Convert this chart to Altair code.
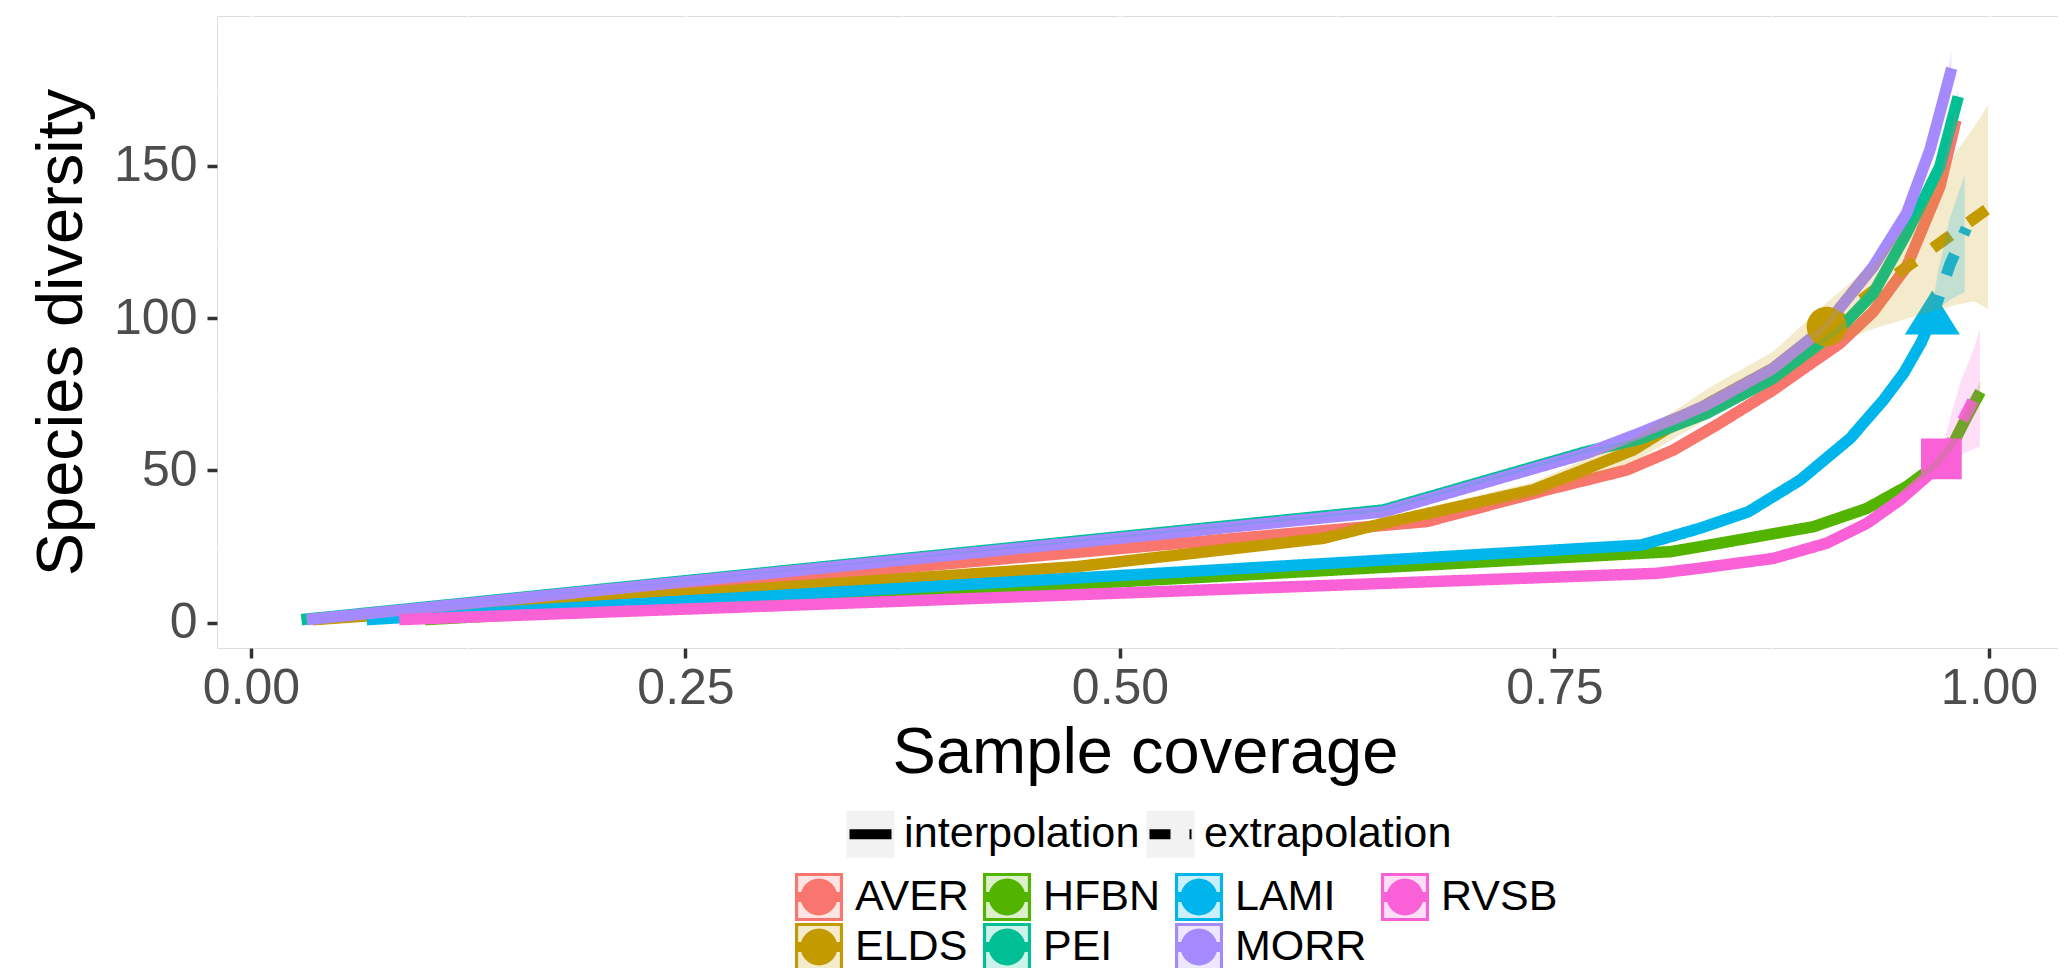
import altair as alt
import pandas as pd

SITES = ["AVER", "ELDS", "HFBN", "PEI", "LAMI", "MORR", "RVSB"]
METHODS = ["interpolation", "extrapolation"]
SITE_COLORS = ["#F8766D", "#C49A00", "#53B400", "#00C094", "#00B6EB", "#A58AFF", "#FB61D7"]

# interpolated curves (sample coverage, species diversity)
AVER_X = [0.035, 0.6765, 0.749, 0.7915, 0.8185, 0.845, 0.8758, 0.895, 0.9142, 0.9334, 0.9526, 0.9717, 0.981]
AVER_Y = [1, 33.2, 44.1, 50.1, 56.7, 65.5, 76.4, 84.1, 91.7, 102.1, 116.9, 143.1, 165]
ELDS_X = [0.036, 0.475, 0.617, 0.6515, 0.7378, 0.7954, 0.8385, 0.8758, 0.9066]
ELDS_Y = [1, 18.4, 27.7, 32.6, 43.6, 56.7, 72.0, 83.5, 97.2]
HFBN_X = [0.10, 0.8165, 0.8337, 0.8989, 0.9297, 0.9526, 0.968, 0.9795, 0.9872, 0.995]
HFBN_Y = [1, 23.3, 24.95, 31.5, 37.5, 44.7, 51.2, 58.9, 67.6, 75.8]
PEI_X = [0.029, 0.6515, 0.7685, 0.7992, 0.8375, 0.8758, 0.9142, 0.9334, 0.9526, 0.9717, 0.9823]
PEI_Y = [1, 37.0, 56.2, 60.3, 68.7, 80.2, 96.6, 108.1, 127.8, 149.7, 172.7]
LAMI_X = [0.0666, 0.800, 0.8337, 0.8615, 0.8913, 0.9201, 0.9393, 0.951, 0.961, 0.9674]
LAMI_Y = [1, 25.5, 31.0, 36.4, 46.8, 60.5, 73.1, 82.0, 92.0, 100.5]
MORR_X = [0.032, 0.6515, 0.7685, 0.7992, 0.822, 0.8375, 0.8758, 0.9046, 0.9334, 0.9526, 0.966, 0.9737, 0.9785]
MORR_Y = [1, 36.4, 55.6, 62.3, 67.6, 71.5, 83.5, 96.6, 116.9, 134.4, 155.2, 171.6, 182.0]
RVSB_X = [0.0853, 0.8088, 0.8337, 0.8759, 0.9066, 0.9297, 0.9488, 0.9641, 0.9726]
RVSB_Y = [1, 16.2, 17.9, 21.1, 26.1, 32.6, 40.3, 47.9, 53.8]

# extrapolated curves
ELDS_EX_X = [0.9066, 0.9114, 0.9328, 0.9541, 0.9756, 0.9995]
ELDS_EX_Y = [97.2, 99.4, 108.7, 117.4, 126.2, 136.0]
LAMI_EX_X = [0.9674, 0.9776, 0.987]
LAMI_EX_Y = [100.5, 117.7, 129.5]
RVSB_EX_X = [0.9726, 0.9776, 0.9886, 0.992]
RVSB_EX_Y = [53.8, 58.3, 70.4, 74.5]

# observed samples (end of the interpolated part)
OBS_SITES = ["ELDS", "LAMI", "RVSB"]
OBS_X = [0.9066, 0.9674, 0.9726]
OBS_Y = [97.2, 100.5, 53.8]
OBS_METHOD = ["interpolation", "interpolation", "interpolation"]

# confidence bands
AVER_BX = [0.035, 0.6765, 0.749, 0.7915, 0.8185, 0.845, 0.8758, 0.895, 0.9142, 0.9334, 0.9526, 0.9717, 0.981]
AVER_LO = [1, 32.7, 43.3, 49.1, 55.5, 64.0, 74.6, 82.1, 89.5, 99.5, 113.9, 139.6, 161]
AVER_HI = [1, 33.7, 44.9, 51.1, 57.9, 67.0, 78.2, 86.1, 93.9, 104.7, 119.9, 146.6, 169]
ELDS_BX = [0.036, 0.475, 0.617, 0.6515, 0.7378, 0.7954, 0.8385, 0.8758, 0.9066, 0.9334, 0.9627, 0.9819, 0.9915, 0.9995]
ELDS_LO = [1, 17.6, 26.2, 30.8, 41.1, 52.7, 67.0, 78.0, 90.5, 96.5, 101.5, 104.5, 105.5, 103.0]
ELDS_HI = [1, 19.2, 29.2, 34.4, 46.1, 60.7, 77.0, 89.0, 105.0, 118.0, 136.8, 155.2, 162.8, 170.0]
HFBN_BX = [0.10, 0.8165, 0.8337, 0.8989, 0.9297, 0.9526, 0.968, 0.9795, 0.9872, 0.995]
HFBN_LO = [1, 22.9, 24.5, 30.8, 36.6, 43.5, 49.8, 57.0, 65.0, 72.0]
HFBN_HI = [1, 23.7, 25.4, 32.2, 38.4, 45.9, 52.6, 60.8, 70.2, 79.7]
PEI_BX = [0.029, 0.6515, 0.7685, 0.7992, 0.8375, 0.8758, 0.9142, 0.9334, 0.9526, 0.9717, 0.9823]
PEI_LO = [1, 36.6, 55.7, 59.7, 68.0, 79.3, 95.5, 106.8, 126.2, 147.7, 169.9]
PEI_HI = [1, 37.4, 56.7, 60.9, 69.4, 81.1, 97.7, 109.4, 129.4, 151.7, 175.5]
LAMI_BX = [0.0666, 0.800, 0.8337, 0.8615, 0.8913, 0.9201, 0.9393, 0.951, 0.961, 0.9674, 0.9705, 0.9776, 0.986]
LAMI_LO = [1, 24.9, 30.2, 35.3, 45.2, 58.3, 70.5, 79.2, 89.0, 97.5, 103, 106, 108.5]
LAMI_HI = [1, 26.1, 31.8, 37.5, 48.4, 62.7, 75.7, 84.8, 95.0, 103.5, 115, 133, 147]
MORR_BX = [0.032, 0.6515, 0.7685, 0.7992, 0.822, 0.8375, 0.8758, 0.9046, 0.9334, 0.9526, 0.966, 0.9737, 0.9785]
MORR_LO = [1, 36.0, 55.0, 61.6, 66.8, 70.6, 82.4, 95.2, 114.9, 131.9, 152.0, 167.6, 176.5]
MORR_HI = [1, 36.8, 56.2, 63.0, 68.4, 72.4, 84.6, 98.0, 118.9, 136.9, 158.4, 175.6, 187.5]
RVSB_BX = [0.0853, 0.8088, 0.8337, 0.8759, 0.9066, 0.9297, 0.9488, 0.9641, 0.9726, 0.9833, 0.991, 0.9948]
RVSB_LO = [1, 15.9, 17.5, 20.6, 25.4, 31.6, 39.0, 46.3, 51.5, 55, 57, 57.8]
RVSB_HI = [1, 16.5, 18.3, 21.6, 26.8, 33.6, 41.6, 49.5, 56.5, 78.6, 89.5, 96.6]

X_TICKS = [0, 0.125, 0.25, 0.375, 0.5, 0.625, 0.75, 0.875, 1.0]
Y_TICKS = [0, 25, 50, 75, 100, 125, 150, 175]

# ---------------------------------------------------------------- tables
interp = {"AVER": (AVER_X, AVER_Y), "ELDS": (ELDS_X, ELDS_Y), "HFBN": (HFBN_X, HFBN_Y),
          "PEI": (PEI_X, PEI_Y), "LAMI": (LAMI_X, LAMI_Y), "MORR": (MORR_X, MORR_Y),
          "RVSB": (RVSB_X, RVSB_Y)}
extrap = {"ELDS": (ELDS_EX_X, ELDS_EX_Y), "LAMI": (LAMI_EX_X, LAMI_EX_Y), "RVSB": (RVSB_EX_X, RVSB_EX_Y)}
bands = {"AVER": (AVER_BX, AVER_LO, AVER_HI), "ELDS": (ELDS_BX, ELDS_LO, ELDS_HI),
         "HFBN": (HFBN_BX, HFBN_LO, HFBN_HI), "PEI": (PEI_BX, PEI_LO, PEI_HI),
         "LAMI": (LAMI_BX, LAMI_LO, LAMI_HI), "MORR": (MORR_BX, MORR_LO, MORR_HI),
         "RVSB": (RVSB_BX, RVSB_LO, RVSB_HI)}

line_rows = []
for s in SITES:
    xs, ys = interp[s]
    for x, y in zip(xs, ys):
        line_rows.append({"site": s, "method": "interpolation", "coverage": x, "diversity": y})
    if s in extrap:
        xs, ys = extrap[s]
        for x, y in zip(xs, ys):
            line_rows.append({"site": s, "method": "extrapolation", "coverage": x, "diversity": y})
lines_df = pd.DataFrame(line_rows)

band_rows = []
for s in SITES:
    xs, lo, hi = bands[s]
    for x, a, b in zip(xs, lo, hi):
        band_rows.append({"site": s, "coverage": x, "lo": a, "hi": b})
bands_df = pd.DataFrame(band_rows)

points_df = pd.DataFrame({"site": OBS_SITES, "coverage": OBS_X, "diversity": OBS_Y,
                          "method": OBS_METHOD})

FONT = "Liberation Sans"

# ---------------------------------------------------------------- scales / axes
x_scale = alt.Scale(domain=[-0.01956, 1.0397], nice=False, zero=False)
y_scale = alt.Scale(domain=[-8.31, 199.18], nice=False, zero=False)

x_major = "(datum.value * 4) % 1 === 0"
y_major = "datum.value % 50 === 0"

x_axis = alt.Axis(
    values=X_TICKS,
    labelExpr=f"{x_major} ? format(datum.value, '.2f') : ''",
    title="Sample coverage", titleFont=FONT, titleFontSize=65, titleFontWeight="normal",
    titleColor="black", titleX=928, titleY=124, titleBaseline="alphabetic", titleAlign="center",
    labelFont=FONT, labelFontSize=50, labelColor="#4D4D4D", labelPadding=45,
    labelBaseline="alphabetic", labelOverlap=False, labelFlush=False, labelBound=False,
    tickSize=10, tickWidth=3.5, tickColor="#333333",
    tickOpacity={"condition": {"test": x_major, "value": 1}, "value": 0},
    grid=True, gridColor="white",
    gridWidth={"condition": {"test": x_major, "value": 4}, "value": 2},
    domain=False,
)
y_axis = alt.Axis(
    values=Y_TICKS,
    labelExpr=f"{y_major} ? format(datum.value, 'd') : ''",
    title="Species diversity", titleFont=FONT, titleFontSize=65, titleFontWeight="normal",
    titleColor="black", titleX=-136, titleY=316, titleAngle=270, titleBaseline="alphabetic",
    titleAlign="center",
    labelFont=FONT, labelFontSize=50, labelColor="#4D4D4D", labelPadding=10,
    labelOverlap=False, labelFlush=False, labelBound=False,
    tickSize=10, tickWidth=3.5, tickColor="#333333",
    tickOpacity={"condition": {"test": y_major, "value": 1}, "value": 0},
    grid=True, gridColor="white",
    gridWidth={"condition": {"test": y_major, "value": 4}, "value": 2},
    domain=False,
)

def color_scale():
    return alt.Scale(domain=SITES, range=SITE_COLORS)

plot_dash = alt.Scale(domain=METHODS, range=[[1, 0], [22, 22]])
key_dash = alt.Scale(domain=METHODS, range=[[1, 0], [21, 19]])

SQUARE = "M-1,-1H1V1H-1Z"
GLYPH = ("M-1,-1H1V1H-1Z M-0.87,-0.87V0.87H0.87V-0.87Z "
         "M-0.77,0A0.77,0.77 0 1,1 0.77,0A0.77,0.77 0 1,1 -0.77,0Z "
         "M-0.92,-0.21H0.92V0.21H-0.92Z")
KEY_BOX = "M-1.14,-1.12H1.14V1.12H-1.14Z"
KEY_LINE = "M-1.14,-1.12L-1.14,-1.12 M1.14,1.12L1.14,1.12 M-1,0H1"

color_legend = dict(orient="none", legendX=578, legendY=857, columns=4, columnPadding=14,
                    rowPadding=2, labelOffset=12, labelFont=FONT, labelFontSize=43,
                    labelColor="black", labelLimit=400, padding=0, title=None,
                    symbolSize=2304, symbolStrokeWidth=0)
dash_legend = dict(orient="none", legendX=627.5, legendY=792, direction="horizontal",
                   symbolSize=1764, symbolStrokeWidth=10, labelOffset=7.6, columnPadding=-13,
                   labelFont=FONT, labelFontSize=43.2, labelColor="black", labelLimit=400,
                   padding=0, title=None)

# ---------------------------------------------------------------- layers
lines = alt.Chart(lines_df).mark_line(strokeWidth=11.5, strokeJoin="round").encode(
    x=alt.X("coverage:Q", scale=x_scale, axis=x_axis),
    y=alt.Y("diversity:Q", scale=y_scale, axis=y_axis),
    color=alt.Color("site:N", scale=color_scale(), legend=None),
    strokeDash=alt.StrokeDash(
        "method:N", scale=plot_dash,
        legend=alt.Legend(symbolType=KEY_BOX, symbolFillColor="#F2F2F2",
                          symbolStrokeColor="transparent", labelOpacity=0, **dash_legend),
    ),
)

points = alt.Chart(points_df).mark_point(filled=True, opacity=1, strokeWidth=0, size=3025).encode(
    x=alt.X("coverage:Q", scale=x_scale, axis=x_axis),
    y=alt.Y("diversity:Q", scale=y_scale, axis=y_axis),
    color=alt.Color("site:N", scale=color_scale(),
                    legend=alt.Legend(symbolType=GLYPH, symbolOpacity=1, **color_legend)),
    shape=alt.Shape(
        "site:N",
        scale=alt.Scale(domain=OBS_SITES, range=[
            "M-0.727,0A0.727,0.727 0 1,1 0.727,0A0.727,0.727 0 1,1 -0.727,0Z",
            "M0,-0.95L1,0.65L-1,0.65Z",
            "M-0.74,-0.74H0.74V0.74H-0.74Z",
        ]),
        legend=None,
    ),
    strokeDash=alt.StrokeDash(
        "method:N", scale=key_dash,
        legend=alt.Legend(symbolType=KEY_LINE, symbolFillColor="transparent",
                          symbolStrokeColor="black", symbolOpacity=1, **dash_legend),
    ),
)

ribbons = alt.Chart(bands_df).mark_area(opacity=0.2).encode(
    x=alt.X("coverage:Q", scale=x_scale, axis=x_axis),
    y=alt.Y("lo:Q", scale=y_scale, axis=y_axis),
    y2="hi:Q",
    color=alt.Color("site:N", scale=color_scale(),
                    legend=alt.Legend(symbolType=SQUARE, labelOpacity=0, **color_legend)),
)

chart = alt.layer(lines, points, ribbons).resolve_scale(
    color="independent", strokeDash="independent"
).properties(
    width=1841, height=632,
    autosize=alt.AutoSizeParams(type="none"),
    padding={"left": 209, "top": 8, "right": 0, "bottom": 320},
    background="white",
).configure_view(fill="#EBEBEB", strokeWidth=0).configure(font=FONT)

chart.save("out.html", embed_options={"renderer": "svg", "actions": False})
